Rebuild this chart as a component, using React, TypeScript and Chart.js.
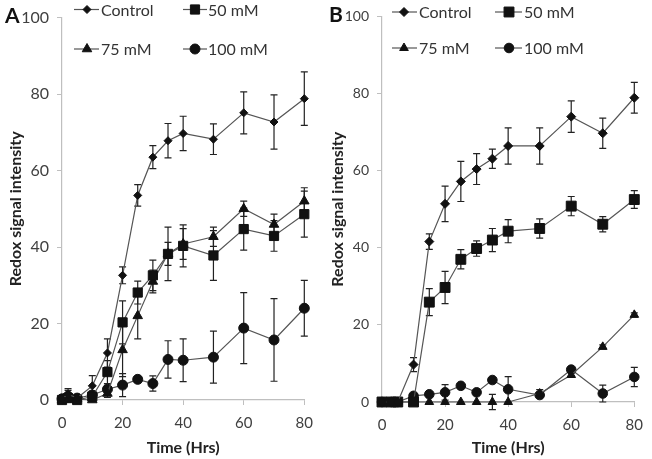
import { useEffect, useRef } from 'react';
import { Chart, registerables } from 'chart.js';
import { drawPoint } from 'chart.js/helpers';
Chart.register(...registerables);

// ---------- data ----------
const seriesNames = ['Control', '50 mM', '75 mM', '100 mM'];

const timesA = [0, 2, 5, 10, 15, 20, 25, 30, 35, 40, 50, 60, 70, 80];
const controlA = [0.3, 1.5, 0.5, 3.7, 12.3, 32.6, 53.5, 63.5, 67.8, 69.7, 68.2, 75.1, 72.7, 78.8];
const controlAErr = [0.5, 1.5, 0.5, 2.7, 3.7, 2.2, 2.8, 3, 4.5, 4.5, 4, 5.5, 7.1, 7];
const mM50A = [0, 0.5, 0, 0.9, 7.3, 20.3, 28.1, 32.6, 38.2, 40.3, 37.8, 44.7, 42.9, 48.6];
const mM50AErr = [0.5, 1, 0.5, 1, 3, 5.6, 3, 4, 7, 5.5, 6.5, 5.5, 4, 6];
const mM75A = [0, 0.3, 0.2, 0, 1.7, 13.1, 22, 31, 38.2, 40.8, 42.7, 50, 45.9, 52];
const mM75AErr = [0, 0, 0.3, 0, 1, 7, 6, 3, 3, 4, 2.5, 2, 2.7, 3.5];
const mM100A = [0.3, 1, 0.5, 1.3, 2.8, 3.9, 5.4, 4.3, 10.6, 10.4, 11.2, 18.8, 15.7, 24];
const mM100AErr = [0.5, 1.5, 0, 1, 1, 3, 0.5, 2, 4.9, 5.6, 6.8, 9.3, 10.8, 7.3];

const timesB = [0, 3, 5, 10, 15, 20, 25, 30, 35, 40, 50, 60, 70, 80];
const controlB = [0, 0, 0, 9.7, 41.6, 51.4, 57.2, 60.4, 63.1, 66.4, 66.4, 74, 69.7, 78.9];
const controlBErr = [0, 0, 0, 1.8, 2, 4.6, 5.2, 4, 2.5, 4.7, 4.7, 4.1, 3.9, 4];
const mM50B = [0, 0, 0, 0, 25.9, 29.7, 37, 39.8, 42, 44.3, 45, 50.8, 46.1, 52.5];
const mM50BErr = [0, 0, 0, 0, 3.5, 4.2, 2.5, 2, 3, 3, 2.5, 2.5, 2, 2.3];
const mM75B = [0, 0, 0, 0, 0, 0, 0, 0, 0, 0, 2.2, 7, 14.3, 22.6];
const mM75BErr = [0, 0, 0, 0, 0, 0, 0, 0, 2, 0, 1, 0.5, 0.5, 0.5];
const mM100B = [0, 0, 0, 1.6, 2, 2.5, 4.2, 2.5, 5.7, 3.3, 1.8, 8.4, 2.2, 6.5];
const mM100BErr = [0, 0, 0, 0.5, 0.5, 2, 0.5, 0.5, 0.5, 3.3, 0.5, 0.5, 2.2, 2.5];

const xTicks = [0, 20, 40, 60, 80];
const yTicks = [0, 20, 40, 60, 80, 100];

// ---------- styling ----------
const FONT = 'Lato, "Open Sans", "DejaVu Sans", sans-serif';
const AXIS = '#bfbfbf';
const LINE = '#555555';
const MARK = '#111111';
const TEXT = '#404040';
const styles = ['rectRot', 'rect', 'triangle', 'circle'];

type PanelCfg = {
  letter: string;
  letterX: number;
  letterY: number;
  width: number;
  yAxisWidth: number;
  xAxisHeight: number;
  yTickSize: number;
  yTickPad: number;
  xTickSize: number;
  radii: number[];
  legendRows: number[];
  legendCols: { x1: number; x2: number; mx: number; tx: number }[];
  times: number[];
  values: number[][];
  errors: number[][];
};

const panels: PanelCfg[] = [
  {
    letter: 'A', letterX: 5, letterY: 23, width: 322,
    yAxisWidth: 62, xAxisHeight: 59, yTickSize: 16, yTickPad: 8, xTickSize: 15,
    radii: [4, 6.5, 5.5, 5],
    legendRows: [9.5, 49],
    legendCols: [{ x1: 74, x2: 99, mx: 87, tx: 101 }, { x1: 183, x2: 207, mx: 195, tx: 208 }],
    times: timesA,
    values: [controlA, mM50A, mM75A, mM100A],
    errors: [controlAErr, mM50AErr, mM75AErr, mM100AErr],
  },
  {
    letter: 'B', letterX: 7, letterY: 22, width: 330,
    yAxisWidth: 60, xAxisHeight: 57, yTickSize: 14, yTickPad: 8, xTickSize: 15,
    radii: [4.5, 7, 5, 4.8],
    legendRows: [12, 48],
    legendCols: [{ x1: 70, x2: 95, mx: 82, tx: 97 }, { x1: 173, x2: 200, mx: 187, tx: 202 }],
    times: timesB,
    values: [controlB, mM50B, mM75B, mM100B],
    errors: [controlBErr, mM50BErr, mM75BErr, mM100BErr],
  },
];

function Panel({ cfg, left }: { cfg: PanelCfg; left: number }) {
  const ref = useRef<HTMLCanvasElement | null>(null);
  useEffect(() => {
    if (!ref.current) return;
    const datasets = seriesNames.map((name, i) => ({
      label: name,
      data: cfg.times.map((t, j) => ({ x: t, y: cfg.values[i][j] })),
      borderColor: LINE,
      borderWidth: 1.2,
      pointStyle: styles[i],
      pointRadius: cfg.radii[i],
      pointBackgroundColor: MARK,
      pointBorderColor: MARK,
      pointBorderWidth: 1,
      tension: 0,
      clip: false as any,
    }));

    const errorBars = {
      id: 'errorBars',
      beforeDatasetsDraw(chart: any) {
        const ctx = chart.ctx;
        const ys = chart.scales.y;
        ctx.save();
        ctx.strokeStyle = '#222';
        ctx.lineWidth = 1.2;
        chart.data.datasets.forEach((_ds: any, i: number) => {
          const meta = chart.getDatasetMeta(i);
          meta.data.forEach((pt: any, j: number) => {
            const e = cfg.errors[i][j];
            if (!e) return;
            const v = cfg.values[i][j];
            const x = pt.x;
            const yTop = ys.getPixelForValue(v + e);
            const yBot = ys.getPixelForValue(v - e);
            ctx.beginPath();
            ctx.moveTo(x, yTop); ctx.lineTo(x, yBot);
            ctx.moveTo(x - 3.5, yTop); ctx.lineTo(x + 3.5, yTop);
            ctx.moveTo(x - 3.5, yBot); ctx.lineTo(x + 3.5, yBot);
            ctx.stroke();
          });
        });
        ctx.restore();
      },
    };

    const decorations = {
      id: 'decorations',
      afterDraw(chart: any) {
        const ctx = chart.ctx;
        ctx.save();
        ctx.fillStyle = '#111';
        ctx.font = `bold 21px ${FONT}`;
        ctx.textBaseline = 'alphabetic';
        ctx.textAlign = 'left';
        ctx.fillText(cfg.letter, cfg.letterX, cfg.letterY);
        ctx.font = `16px ${FONT}`;
        ctx.textBaseline = 'middle';
        seriesNames.forEach((name, i) => {
          const row = cfg.legendRows[Math.floor(i / 2)];
          const col = cfg.legendCols[i % 2];
          ctx.strokeStyle = LINE;
          ctx.lineWidth = 1.2;
          ctx.beginPath();
          ctx.moveTo(col.x1, row); ctx.lineTo(col.x2, row);
          ctx.stroke();
          ctx.fillStyle = MARK;
          ctx.strokeStyle = MARK;
          ctx.lineWidth = 1;
          drawPoint(ctx, { pointStyle: styles[i], radius: cfg.radii[i], rotation: 0, borderWidth: 1 } as any, col.mx, row);
          ctx.fillStyle = '#333';
          ctx.fillText(name, col.tx, row + 1);
        });
        ctx.restore();
      },
    };

    const chart = new Chart(ref.current, {
      type: 'line',
      data: { datasets: datasets as any },
      options: {
        animation: false,
        responsive: false,
        devicePixelRatio: 1,
        layout: { padding: { top: 14, right: 12, left: 0, bottom: 0 } },
        plugins: { legend: { display: false }, tooltip: { enabled: false } },
        scales: {
          x: {
            type: 'linear', min: 0, max: 80,
            afterBuildTicks: (s: any) => { s.ticks = xTicks.map((v) => ({ value: v })); },
            afterFit: (s: any) => { s.height = cfg.xAxisHeight; },
            ticks: { font: { family: FONT, size: cfg.xTickSize }, color: TEXT, padding: 9, maxRotation: 0 },
            grid: { drawOnChartArea: false, drawTicks: true, tickLength: 5, color: AXIS },
            border: { color: AXIS, width: 1.2 },
            title: { display: true, text: 'Time (Hrs)', color: '#222', font: { family: FONT, size: 16, weight: 'bold' }, padding: { top: 0, bottom: 2 } },
          },
          y: {
            type: 'linear', min: 0, max: 100,
            afterBuildTicks: (s: any) => { s.ticks = yTicks.map((v) => ({ value: v })); },
            afterFit: (s: any) => { s.width = cfg.yAxisWidth; },
            ticks: { font: { family: FONT, size: cfg.yTickSize }, color: TEXT, padding: cfg.yTickPad },
            grid: { drawOnChartArea: false, drawTicks: true, tickLength: 5, color: AXIS },
            border: { color: AXIS, width: 1.2 },
            title: { display: true, text: 'Redox signal intensity', color: '#222', font: { family: FONT, size: 16, weight: 'bold' }, padding: { top: 6, bottom: 0 } },
          },
        },
      },
      plugins: [errorBars, decorations],
    });
    return () => chart.destroy();
  }, [cfg]);
  return (
    <canvas
      ref={ref}
      width={cfg.width}
      height={459}
      style={{ position: 'absolute', left, top: 0, width: cfg.width, height: 459, display: 'block' }}
    />
  );
}

export default function App() {
  return (
    <div style={{ position: 'absolute', left: 0, top: 0, width: 652, height: 459, background: '#fff', overflow: 'hidden' }}>
      <Panel cfg={panels[0]} left={0} />
      <Panel cfg={panels[1]} left={322} />
    </div>
  );
}
